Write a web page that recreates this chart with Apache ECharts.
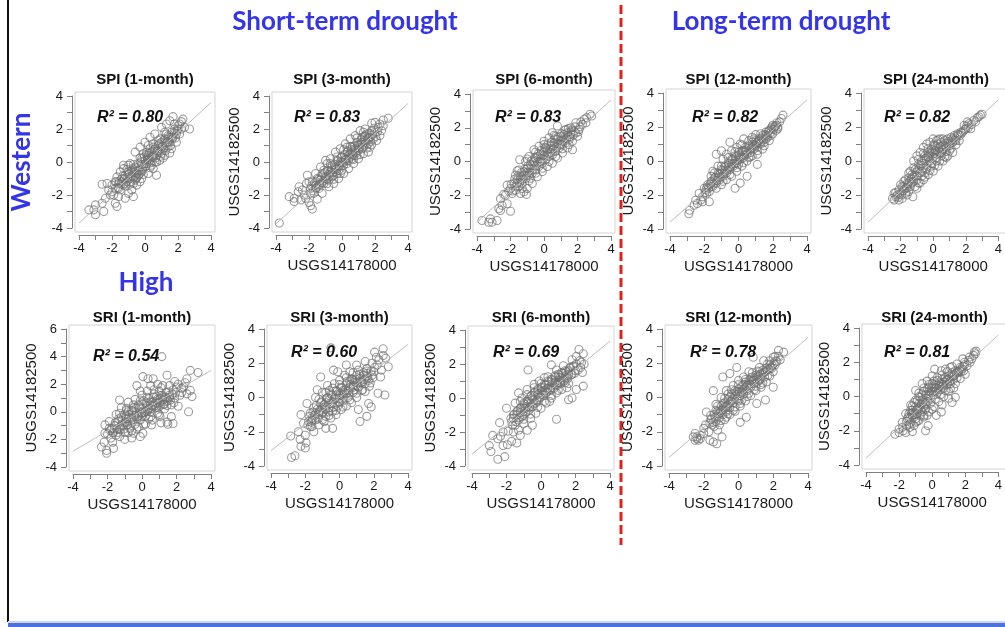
<!DOCTYPE html>
<html>
<head>
<meta charset="utf-8">
<script src="https://cdn.jsdelivr.net/npm/echarts@6/dist/echarts.min.js"></script>
<style>
html,body{margin:0;padding:0;background:#fff;}
#c{width:1005px;height:627px;}
</style>
</head>
<body>
<div id="c"></div>
<script>
// ---------------- DATA ----------------
const panelTitles = ['SPI (1-month)','SPI (3-month)','SPI (6-month)','SPI (12-month)','SPI (24-month)',
                     'SRI (1-month)','SRI (3-month)','SRI (6-month)','SRI (12-month)','SRI (24-month)'];
const r2Values = ['0.80','0.83','0.83','0.82','0.82','0.54','0.60','0.69','0.78','0.81'];
const yMaxValues = [4,4,4,4,4,6,4,4,4,4];
const axisMin = -4, axisMaxX = 4;
const xName = 'USGS14178000';
const yName = 'USGS14182500';
const headings = ['Short-term drought','Long-term drought'];
const rowLabel = 'Western';
const colLabel = 'High';

// fitted regression lines (end points)
const fitLines = [
  [[-4,-3.7],[4,3.6]],
  [[-4,-3.75],[4,3.55]],
  [[-4,-3.6],[4,3.65]],
  [[-4,-3.6],[4,3.6]],
  [[-4,-3.6],[4,3.6]],
  [[-4,-2.85],[4,3.0]],
  [[-4,-3.1],[4,3.1]],
  [[-4,-3.3],[4,3.35]],
  [[-4,-3.5],[4,3.5]],
  [[-4,-3.6],[4,3.6]]
];

const spi1 = [[-4.1,-3.3],[-3.4,-2.9],[-3.1,-2.9],[-3.0,-3.2],[-3.0,-2.6],[-2.5,-3.0],[-1.8,-2.5],[-1.7,-2.7],[-2.6,-1.35],[-2.3,-1.3],[-2.0,-1.4],[-1.8,-1.2],[-0.7,-2.1],[0.7,-0.8],[1.7,2.75],[2.2,2.45],[2.7,2.0],[2.0,2.0],[-2.1,-2.0],[-1.6,-2.1],[-1.2,-2.2],[-1.0,-1.9],[-1.5,-0.6],[-1.3,-0.4],[-0.9,-0.1],[-0.6,0.6],[-0.3,0.9],[0.0,1.2],[0.3,1.5],[0.6,1.7],[1.0,2.1],[1.3,2.3],[1.5,2.5],[1.8,2.3],[2.1,1.7],[1.9,1.2],[1.6,0.8],[1.2,0.4],[0.9,0.1],[0.5,-0.4],[0.2,-0.7],[-0.2,-1.0],[-0.5,-1.4],[-0.8,-1.7],
[-1.8,-1.6],[-1.6,-1.3],[-1.5,-1.7],[-1.4,-1.0],[-1.3,-1.4],[-1.2,-0.8],[-1.1,-1.2],[-1.0,-0.6],[-0.9,-1.0],[-0.8,-0.5],[-0.7,-0.9],[-0.6,-0.3],[-0.5,-0.7],[-0.4,-0.1],[-0.3,-0.5],[-0.2,0.2],[-0.1,-0.3],[0.0,0.1],[0.1,-0.1],[0.2,0.4],[0.3,0.1],[0.4,0.6],[0.5,0.3],[0.6,0.8],[0.7,0.4],[0.8,1.0],[0.9,0.6],[1.0,1.2],[1.1,0.8],[1.2,1.4],[1.3,1.0],[1.4,1.6],[1.5,1.2],[1.6,1.8],[1.7,1.5],[1.8,2.0],[1.9,1.7],[2.0,2.2],[2.1,2.3],[2.2,2.0],
[-1.0,-0.2],[-0.7,-1.3],[-0.4,-0.8],[-0.2,-0.6],[0.1,0.6],[0.3,0.8],[0.4,-0.2],[0.6,0.0],[0.8,1.3],[1.0,0.5],[1.2,1.8],[1.4,0.9],[-1.7,-0.9],[-1.9,-2.0],[-2.2,-1.7],[-0.3,-1.2],[0.2,1.0],[0.5,1.1],[-0.1,0.5],[-0.6,-1.1],
[-1.75,-1.2],[-1.65,-1.55],[-1.55,-1.15],[-1.45,-1.35],[-1.35,-0.85],[-1.25,-1.05],[-1.15,-1.45],[-1.05,-0.95],[-0.95,-0.7],[-0.85,-1.2],[-0.75,-0.4],[-0.65,-0.65],[-0.55,-1.0],[-0.45,-0.35],[-0.35,-0.75],[-0.25,0.0],[-0.15,-0.45],[-0.05,0.3],[0.05,-0.25],[0.15,0.15],[0.25,0.55],[0.35,-0.05],[0.45,0.35],[0.55,0.75],[0.65,0.25],[0.75,0.65],[0.85,1.1],[0.95,0.35],[1.05,0.95],[1.15,1.3],[1.25,0.7],[1.35,1.2],[1.45,1.5],[1.55,1.0],[1.65,1.4],[1.75,1.75],[1.85,1.45],[1.95,1.9],[-1.6,-1.6],[-1.2,-1.3],[-0.8,-0.85],[-0.4,-0.5],[0.0,-0.1],[0.4,0.3],[0.8,0.7],[1.2,1.15],[1.6,1.5],[-1.4,-1.2],[-1.0,-0.75],[-0.6,-0.55],[-0.2,-0.15],[0.2,0.25],[0.6,0.55],[1.0,0.9],[1.4,1.25],[-1.1,-0.45],[-0.7,-0.15],[-0.3,0.25],[0.1,0.45],[0.5,0.9],[0.9,1.4],[1.3,1.7],[-0.9,-1.35],[-0.5,-0.95],[-0.1,-0.75],[0.3,-0.35],[0.7,0.0],[1.1,0.25],[1.5,0.55],[-1.3,-0.2],[2.3,2.6],[2.4,2.1],[-2.4,-2.2],[-2.0,-1.8],[-2.6,-2.5]];

const spi3 = [[-4.1,-3.9],[-3.8,-3.7],[-3.2,-2.1],[-2.9,-2.4],[-2.9,-2.2],[-2.6,-1.5],[-2.65,-1.8],[-2.0,-2.45],[-1.9,-2.65],[-1.8,-2.85],[-1.5,-2.25],[-2.15,-1.3],[-2.1,-0.8],[-0.9,-0.1],[2.8,2.65],[2.5,2.55],[1.8,2.35],[2.1,1.3],[1.7,0.9],[2.2,2.1],[2.4,1.9],[2.3,1.6],[2.0,2.4],
[-1.9,-1.6],[-1.8,-1.2],[-1.7,-1.9],[-1.6,-1.4],[-1.5,-1.0],[-1.4,-1.6],[-1.3,-1.1],[-1.2,-0.7],[-1.1,-1.3],[-1.0,-0.9],[-0.9,-0.5],[-0.8,-1.1],[-0.7,-0.6],[-0.6,-0.2],[-0.5,-0.8],[-0.4,-0.3],[-0.3,0.1],[-0.2,-0.5],[-0.1,0.0],[0.0,0.3],[0.1,-0.2],[0.2,0.2],[0.3,0.6],[0.4,0.1],[0.5,0.5],[0.6,0.9],[0.7,0.4],[0.8,0.8],[0.9,1.2],[1.0,0.7],[1.1,1.1],[1.2,1.5],[1.3,0.9],[1.4,1.3],[1.5,1.7],[1.6,1.1],[1.7,1.5],[1.8,1.9],[1.9,1.4],[2.0,1.8],
[-1.3,-0.3],[-1.0,0.1],[-0.7,0.2],[-0.4,0.6],[-0.1,0.8],[0.2,1.1],[0.5,1.4],[0.8,1.6],[1.1,1.9],[1.4,2.0],[-1.6,-0.7],[-0.8,-1.5],[-0.5,-1.3],[-0.2,-1.0],[0.1,-0.7],[0.4,-0.4],[0.7,-0.1],[1.0,0.2],[1.3,0.5],[1.6,0.6],[-1.2,-1.9],[-2.3,-2.0],[-2.4,-1.7],[0.0,-0.5],[0.3,0.9],[0.6,0.2],[-0.3,-0.7],[-0.6,-0.9],[0.9,0.4],[1.2,0.8],
[-1.85,-1.45],[-1.75,-1.75],[-1.65,-1.25],[-1.55,-1.55],[-1.45,-1.05],[-1.35,-1.35],[-1.25,-0.85],[-1.15,-1.15],[-1.05,-0.65],[-0.95,-1.05],[-0.85,-0.55],[-0.75,-0.85],[-0.65,-0.35],[-0.55,-0.65],[-0.45,-0.15],[-0.35,-0.45],[-0.25,0.05],[-0.15,-0.25],[-0.05,0.25],[0.05,-0.05],[0.15,0.45],[0.25,0.15],[0.35,0.65],[0.45,0.25],[0.55,0.75],[0.65,0.45],[0.75,0.95],[0.85,0.55],[0.95,1.05],[1.05,0.85],[1.15,1.35],[1.25,1.05],[1.35,1.55],[1.45,1.15],[1.55,1.45],[1.65,1.75],[1.75,1.25],[1.85,1.65],[1.95,2.05],[2.05,1.55],[2.15,1.85],[-1.6,-1.6],[-1.2,-1.25],[-0.8,-0.75],[-0.4,-0.4],[0.0,0.0],[0.4,0.4],[0.8,0.7],[1.2,1.2],[1.6,1.4],[-1.4,-1.4],[-1.0,-1.0],[-0.6,-0.5],[-0.2,-0.2],[0.2,0.1],[0.6,0.6],[1.0,1.0],[1.4,1.6],[-1.1,-0.5],[-0.7,-0.1],[-0.3,0.3],[0.1,0.75],[0.5,0.95],[0.9,1.45],[1.3,1.8],[-0.9,-1.3],[-0.5,-1.05],[-0.1,-0.7],[0.3,-0.1],[0.7,0.15],[1.1,0.45],[1.5,0.85],[1.8,1.05],[2.3,2.3],[2.5,2.2],[-2.2,-2.2],[-2.5,-2.3],[-1.9,-1.9],[-2.0,-1.2]];

const spi6 = [[-3.7,-3.5],[-3.3,-3.6],[-3.2,-3.4],[-3.1,-3.6],[-2.8,-3.5],[-2.7,-2.8],[-2.6,-2.9],[-2.2,-2.5],[-2.0,-2.95],[-2.6,-2.2],[-2.4,-1.95],[-2.1,-1.75],[-1.05,-1.95],[-1.45,0.1],[0.8,2.1],[2.75,2.8],[2.85,2.7],[2.55,2.6],[1.9,2.3],[1.9,1.7],[2.3,2.2],[2.1,1.9],[2.4,2.5],[1.6,2.0],
[-2.0,-1.6],[-1.9,-1.9],[-1.8,-1.3],[-1.7,-1.7],[-1.6,-1.1],[-1.5,-1.5],[-1.4,-0.9],[-1.3,-1.3],[-1.2,-0.6],[-1.1,-1.0],[-1.0,-0.4],[-0.9,-0.8],[-0.8,-0.2],[-0.7,-0.7],[-0.6,0.0],[-0.5,-0.5],[-0.4,0.3],[-0.3,-0.3],[-0.2,0.4],[-0.1,-0.1],[0.0,0.6],[0.1,0.1],[0.2,0.7],[0.3,0.3],[0.4,0.9],[0.5,0.4],[0.6,1.1],[0.7,0.6],[0.8,1.3],[0.9,0.8],[1.0,1.5],[1.1,1.0],[1.2,1.6],[1.3,1.1],[1.4,1.7],[1.5,1.3],[1.6,1.6],[1.7,1.2],[1.8,1.8],[2.0,1.5],
[-1.7,-0.8],[-1.5,-0.5],[-1.1,0.0],[-0.9,0.3],[-0.6,0.7],[-0.3,0.9],[0.0,1.2],[0.3,1.4],[0.5,1.7],[-1.4,-1.9],[-1.0,-1.6],[-0.7,-1.3],[-0.4,-0.9],[-0.1,-0.6],[0.2,-0.3],[0.5,-0.1],[0.8,0.2],[1.1,0.5],[1.4,0.8],[1.7,0.7],[-2.2,-1.4],[-0.8,-1.0],[-0.2,0.0],[0.4,0.5],[1.0,1.0],[0.1,0.8],[-0.5,0.2],[0.7,1.5],[-1.2,-1.8],[1.3,1.9],
[-1.95,-1.35],[-1.85,-1.75],[-1.75,-1.05],[-1.65,-1.45],[-1.55,-0.85],[-1.45,-1.25],[-1.35,-0.65],[-1.25,-1.05],[-1.15,-0.45],[-1.05,-0.85],[-0.95,-0.25],[-0.85,-0.65],[-0.75,0.05],[-0.65,-0.45],[-0.55,0.25],[-0.45,-0.25],[-0.35,0.45],[-0.25,-0.05],[-0.15,0.65],[-0.05,0.15],[0.05,0.85],[0.15,0.35],[0.25,1.05],[0.35,0.55],[0.45,1.15],[0.55,0.75],[0.65,1.35],[0.75,0.85],[0.85,1.45],[0.95,1.05],[1.05,1.65],[1.15,1.25],[1.25,1.85],[1.35,1.35],[1.45,1.95],[1.55,1.45],[1.65,1.85],[1.75,1.55],[1.85,2.05],[2.05,1.75],[2.15,2.05],[-1.6,-1.3],[-1.2,-0.8],[-0.8,-0.45],[-0.4,-0.05],[0.0,0.35],[0.4,0.75],[0.8,1.05],[1.2,1.35],[1.6,1.75],[-1.4,-1.05],[-1.0,-0.65],[-0.6,-0.25],[-0.2,0.15],[0.2,0.5],[0.6,0.95],[1.0,1.25],[1.4,1.55],[-1.3,-1.6],[-0.9,-1.15],[-0.5,-0.7],[-0.1,-0.4],[0.3,0.0],[0.7,0.3],[1.1,0.75],[1.5,1.0],[-1.6,-0.55],[-1.0,0.15],[-0.5,0.55],[0.0,1.0],[0.6,1.55],[-2.3,-2.0],[-2.5,-2.6],[2.2,2.35],[2.5,2.3]];

const spi12 = [[-2.9,-3.1],[-2.85,-2.9],[-2.2,-2.3],[-2.1,-2.1],[-1.7,-2.4],[-1.85,-1.9],[2.6,2.7],[2.5,2.5],[2.2,2.1],[2.3,1.9],[2.1,2.0],[2.0,2.1],[2.2,1.8],[1.9,1.9],[2.4,2.3],[-2.4,-2.5],[-2.0,-1.6],[-2.3,-1.9],[-1.3,0.4],[-1.0,0.6],[-0.5,1.1],[0.3,1.3],[0.8,1.4],[1.6,1.3],[-0.2,-1.6],[0.5,-0.9],[1.1,-0.2],[0.1,-1.3],
[-1.9,-1.7],[-1.8,-1.4],[-1.7,-1.8],[-1.6,-1.2],[-1.5,-1.5],[-1.4,-1.0],[-1.3,-1.3],[-1.2,-0.7],[-1.1,-1.1],[-1.0,-0.5],[-0.9,-0.9],[-0.8,-0.3],[-0.7,-0.7],[-0.6,-0.1],[-0.5,-0.5],[-0.4,0.1],[-0.3,-0.3],[-0.2,0.3],[-0.1,-0.1],[0.0,0.5],[0.1,0.1],[0.2,0.6],[0.3,0.2],[0.4,0.8],[0.5,0.4],[0.6,0.9],[0.7,0.5],[0.8,1.1],[0.9,0.7],[1.0,1.2],[1.1,0.8],[1.2,1.3],[1.3,1.0],[1.4,1.5],[1.5,1.1],[1.6,1.7],[1.7,1.4],[1.8,1.8],[1.9,1.5],
[-1.5,-0.6],[-1.2,-0.3],[-0.9,0.1],[-0.7,0.4],[-0.4,0.6],[-0.1,0.8],[0.1,1.0],[-1.0,-1.4],[-0.7,-1.1],[-0.4,-0.9],[-0.1,-0.6],[0.2,-0.3],[0.5,0.0],[0.8,0.3],[1.1,0.4],[1.4,0.7],[-1.6,-0.9],[-0.2,0.0],[0.3,0.6],[0.6,0.2],[1.0,0.9],[-0.6,-0.4],[-1.1,-0.8],[0.0,-0.2],[0.9,1.3],[1.3,1.6],
[-1.95,-1.85],[-1.85,-1.55],[-1.75,-1.6],[-1.65,-1.35],[-1.55,-1.25],[-1.45,-1.35],[-1.35,-0.95],[-1.25,-1.15],[-1.15,-0.75],[-1.05,-0.95],[-0.95,-0.55],[-0.85,-0.75],[-0.75,-0.35],[-0.65,-0.55],[-0.55,-0.15],[-0.45,-0.35],[-0.35,0.05],[-0.25,-0.15],[-0.15,0.25],[-0.05,0.05],[0.05,0.35],[0.15,0.25],[0.25,0.55],[0.35,0.35],[0.45,0.65],[0.55,0.55],[0.65,0.85],[0.75,0.75],[0.85,0.95],[0.95,0.95],[1.05,1.05],[1.15,1.15],[1.25,1.05],[1.35,1.35],[1.45,1.25],[1.55,1.55],[1.65,1.45],[1.75,1.75],[1.85,1.65],[1.95,2.0],[2.05,1.85],[2.15,2.05],[2.25,2.25],[-1.6,-1.5],[-1.2,-1.0],[-0.8,-0.6],[-0.4,-0.2],[0.0,0.2],[0.4,0.5],[0.8,0.8],[1.2,1.2],[1.6,1.5],[-1.4,-0.7],[-1.0,-0.3],[-0.6,0.2],[-0.2,0.55],[0.2,0.95],[0.6,1.2],[1.0,1.55],[-1.3,-1.6],[-0.9,-1.2],[-0.5,-0.8],[-0.1,-0.4],[0.3,-0.1],[0.7,0.25],[1.1,0.6],[1.5,0.9],[1.8,1.2],[-2.1,-2.4],[-2.5,-2.3],[-2.6,-2.6],[2.0,1.6],[2.3,2.0]];

const spi24 = [[-2.4,-2.3],[-2.3,-2.1],[-2.1,-2.3],[-1.9,-2.2],[-2.4,-1.9],[-1.7,-1.9],[-2.1,-1.7],[-1.8,-1.5],[-2.2,-2.0],[-1.25,-2.1],[-1.5,-1.8],[-1.0,-1.6],[3.0,2.75],[2.7,2.55],[2.5,2.4],[2.2,2.2],[2.0,1.9],[1.7,1.7],[2.3,1.9],[2.1,2.3],[1.9,2.1],[2.6,2.3],[1.6,1.2],[1.3,1.5],
[-1.6,-1.3],[-1.5,-1.0],[-1.4,-1.5],[-1.3,-0.8],[-1.2,-1.2],[-1.1,-0.5],[-1.0,-0.9],[-0.9,-0.2],[-0.8,-0.7],[-0.7,0.0],[-0.6,-0.4],[-0.5,0.3],[-0.4,-0.2],[-0.3,0.5],[-0.2,0.0],[-0.1,0.7],[0.0,0.2],[0.1,0.9],[0.2,0.4],[0.3,1.0],[0.4,0.5],[0.5,1.1],[0.6,0.7],[0.7,1.2],[0.8,0.8],[0.9,1.3],[1.0,0.9],[1.1,1.4],[1.2,1.1],[1.4,1.2],
[-1.2,0.0],[-1.0,0.3],[-0.8,0.5],[-0.6,0.8],[-0.4,1.0],[-0.2,1.1],[0.0,1.3],[0.2,1.2],[-0.9,-1.3],[-0.6,-1.1],[-0.3,-0.8],[0.0,-0.6],[0.3,-0.3],[0.6,0.0],[0.9,0.3],[1.2,0.5],[-1.4,-0.6],[-0.5,-0.7],[-0.1,-0.3],[0.2,0.0],[0.5,0.5],[0.8,0.2],[-0.7,-0.9],[-1.1,-1.5],[0.4,1.3],[-0.3,0.2],[0.1,0.6],[1.5,1.6],[1.0,0.6],[-1.8,-1.2],[-2.0,-1.4],[-1.6,-2.0],
[-2.15,-2.15],[-2.05,-1.95],[-1.95,-2.0],[-1.85,-1.75],[-1.75,-1.65],[-1.65,-1.55],[-1.55,-1.35],[-1.45,-1.2],[-1.35,-1.05],[-1.25,-0.95],[-1.15,-0.85],[-1.05,-0.65],[-0.95,-0.55],[-0.85,-0.45],[-0.75,-0.25],[-0.65,-0.15],[-0.55,0.05],[-0.45,0.15],[-0.35,0.25],[-0.25,0.35],[-0.15,0.45],[-0.05,0.55],[0.05,0.45],[0.15,0.65],[0.25,0.55],[0.35,0.75],[0.45,0.85],[0.55,0.65],[0.65,0.95],[0.75,0.85],[0.85,1.05],[0.95,1.15],[1.05,1.05],[1.15,1.25],[1.25,1.35],[1.35,1.25],[1.45,1.45],[1.55,1.55],[1.65,1.5],[1.75,1.65],[1.85,1.75],[1.95,1.85],[2.05,2.05],[2.15,1.95],[2.35,2.15],[-1.9,-1.5],[-1.6,-1.6],[-1.3,-1.3],[-1.0,-1.1],[-0.7,-0.6],[-0.4,-0.45],[-0.1,-0.15],[0.2,0.2],[0.5,0.3],[0.8,0.55],[1.1,0.75],[1.4,0.95],[-1.5,-0.7],[-1.2,-0.4],[-0.9,0.1],[-0.6,0.45],[-0.3,0.75],[0.0,0.95],[0.3,1.25],[0.6,1.3],[-0.8,-1.3],[-0.5,-0.95],[-0.2,-0.55],[0.1,-0.25],[0.4,0.0],[0.7,0.25],[-1.7,-1.1],[-2.3,-1.85],[-2.5,-2.2],[2.8,2.6],[2.9,2.7]];

const sri1 = [[1.15,4.0],[0.05,2.55],[0.35,2.4],[0.65,2.4],[1.45,2.65],[2.8,3.0],[3.25,2.85],[2.6,2.4],[2.4,1.8],[2.8,1.55],[2.9,1.1],[2.7,0.0],[1.7,-0.35],[1.45,-0.75],[1.5,-0.9],[1.8,-0.85],[1.05,-0.35],[0.55,-0.95],[-2.35,-2.55],[-2.05,-2.8],[-2.05,-3.0],[-2.2,-2.2],[-1.65,-2.65],[-2.15,-1.55],[-1.85,-1.35],[-2.15,-0.95],[-1.3,0.85],[-0.9,0.1],[-0.3,1.9],[-1.3,-1.8],[-0.5,-1.55],[-0.1,-1.8],[0.05,-1.55],[2.0,1.8],[2.1,2.0],[1.9,2.2],[2.3,1.4],[1.8,1.6],[2.2,1.2],[1.6,1.9],[1.2,1.9],[0.9,2.0],[-0.6,-1.9],[-1.0,-2.0],
[-1.7,-1.5],[-1.6,-1.0],[-1.5,-1.7],[-1.4,-0.7],[-1.3,-1.3],[-1.2,-0.4],[-1.1,-1.0],[-1.0,-0.2],[-0.9,-0.8],[-0.8,0.0],[-0.7,-1.2],[-0.6,-0.4],[-0.5,0.3],[-0.4,-0.9],[-0.3,-0.1],[-0.2,0.5],[-0.1,-0.6],[0.0,0.2],[0.1,0.8],[0.2,-0.3],[0.3,0.4],[0.4,1.0],[0.5,0.0],[0.6,0.7],[0.7,1.3],[0.8,0.3],[0.9,0.9],[1.0,1.5],[1.1,0.5],[1.2,1.1],[1.3,0.2],[1.4,1.4],[1.5,0.8],[1.6,1.2],[1.7,0.5],[1.9,1.0],
[-1.5,-0.2],[-1.2,0.3],[-0.8,0.7],[-0.4,0.9],[0.0,1.2],[0.3,1.5],[-1.0,-1.5],[-0.6,-1.4],[-0.2,-1.1],[0.2,-0.9],[0.6,-0.6],[1.0,-0.2],[-0.9,-0.5],[-0.3,-0.5],[0.3,0.0],[0.6,0.4],[0.9,0.6],[-0.6,0.1],[0.0,-0.3],[1.3,0.9],[-1.8,-1.9],[-1.9,-1.2],[0.5,1.9],[-0.1,1.5],[1.1,-0.8],[0.4,-0.5],
[-1.75,-1.2],[-1.65,-1.5],[-1.55,-0.8],[-1.45,-1.25],[-1.35,-0.5],[-1.25,-1.1],[-1.15,-0.65],[-1.05,-1.25],[-0.95,-0.35],[-0.85,-0.95],[-0.75,-0.2],[-0.65,-0.75],[-0.55,0.05],[-0.45,-0.55],[-0.35,0.25],[-0.25,-0.35],[-0.15,0.35],[-0.05,-0.15],[0.05,0.55],[0.15,-0.05],[0.25,0.65],[0.35,0.15],[0.45,0.7],[0.55,0.25],[0.65,1.05],[0.75,0.45],[0.85,1.15],[0.95,0.3],[1.05,0.95],[1.15,1.2],[1.25,0.55],[1.35,1.05],[1.45,0.45],[1.55,1.45],[1.65,0.85],[1.75,1.25],[1.85,0.65],[1.95,1.4],[-1.6,-1.25],[-1.2,-0.95],[-0.8,-0.5],[-0.4,-0.25],[0.0,-0.05],[0.4,0.25],[0.8,0.65],[1.2,0.85],[1.6,1.05],[-1.4,-1.5],[-1.0,-0.8],[-0.6,-0.6],[-0.2,-0.3],[0.2,0.05],[0.6,0.45],[1.0,0.7],[1.4,1.0],[-1.3,-0.1],[-0.9,0.25],[-0.5,0.5],[-0.1,0.8],[0.3,1.05],[0.7,1.6],[1.1,1.75],[-0.8,-1.5],[-0.3,-1.25],[0.1,-0.9],[0.5,-0.35],[0.9,-0.1],[1.3,0.55],[-1.9,-0.7],[-2.0,-1.6],[-1.7,-2.2],[2.3,1.7],[2.5,2.1],[2.6,1.3],[2.1,0.4]];

const sri3 = [[-2.8,-3.5],[-2.6,-3.4],[-2.85,-2.25],[-2.25,-2.85],[-2.0,-2.95],[-1.95,-2.65],[-2.3,-2.45],[-2.0,-2.2],[-2.25,-1.0],[-1.9,-0.35],[-1.3,0.45],[-1.1,1.2],[-0.35,1.6],[-0.5,2.9],[2.05,2.65],[2.55,2.85],[2.55,2.45],[2.15,2.35],[2.85,1.8],[2.45,1.6],[2.25,0.25],[2.65,0.15],[1.7,-0.35],[1.85,-0.55],[1.6,-1.1],[1.2,-1.4],[1.1,-0.7],[1.8,0.85],[2.2,1.9],[1.9,2.0],[1.5,2.1],[1.0,1.9],[0.4,1.9],[-0.1,1.5],[-0.8,-1.8],[-0.4,-1.8],[-1.5,-2.0],[-1.7,-1.7],[2.0,1.5],[1.6,1.7],
[-1.8,-1.4],[-1.7,-0.9],[-1.6,-1.2],[-1.5,-0.6],[-1.4,-1.3],[-1.3,-0.7],[-1.2,-1.0],[-1.1,-0.3],[-1.0,-0.9],[-0.9,-0.4],[-0.8,-1.1],[-0.7,0.0],[-0.6,-0.6],[-0.5,0.2],[-0.4,-0.8],[-0.3,-0.1],[-0.2,0.4],[-0.1,-0.5],[0.0,0.1],[0.1,0.6],[0.2,-0.2],[0.3,0.3],[0.4,0.8],[0.5,0.0],[0.6,0.6],[0.7,1.1],[0.8,0.3],[0.9,0.9],[1.0,1.3],[1.1,0.6],[1.2,1.1],[1.3,0.4],[1.4,1.3],[1.5,0.8],[1.6,1.4],[1.7,1.0],[1.9,1.3],
[-1.4,0.0],[-1.0,0.3],[-0.7,0.7],[-0.3,0.8],[0.0,1.0],[0.3,1.3],[0.6,1.5],[-1.2,-1.6],[-0.9,-1.4],[-0.5,-1.2],[-0.2,-1.0],[0.1,-0.7],[0.4,-0.5],[0.7,-0.3],[1.0,0.0],[-0.8,-0.3],[-0.3,-0.4],[0.2,0.2],[0.5,0.4],[0.8,0.7],[-0.6,0.4],[1.3,0.9],[-1.6,-1.7],[0.0,-0.3],[1.1,1.6],
[-1.85,-1.6],[-1.75,-1.1],[-1.65,-1.45],[-1.55,-0.85],[-1.45,-1.05],[-1.35,-0.45],[-1.25,-1.25],[-1.15,-0.75],[-1.05,-0.25],[-0.95,-0.85],[-0.85,-0.55],[-0.75,-0.05],[-0.65,-0.85],[-0.55,-0.35],[-0.45,0.15],[-0.35,-0.55],[-0.25,0.0],[-0.15,0.35],[-0.05,-0.25],[0.05,0.25],[0.15,0.55],[0.25,0.0],[0.35,0.45],[0.45,0.95],[0.55,0.25],[0.65,0.75],[0.75,1.05],[0.85,0.45],[0.95,1.05],[1.05,0.65],[1.15,1.35],[1.25,0.85],[1.35,0.45],[1.45,1.05],[1.55,1.55],[1.65,1.15],[1.75,0.65],[1.85,1.55],[1.95,1.15],[2.05,1.75],[-1.6,-1.35],[-1.2,-0.85],[-0.8,-0.7],[-0.4,-0.3],[0.0,-0.05],[0.4,0.25],[0.8,0.6],[1.2,0.95],[1.6,1.25],[-1.4,-0.95],[-1.0,-0.6],[-0.6,-0.15],[-0.2,0.15],[0.2,0.4],[0.6,0.95],[1.0,0.85],[1.4,1.45],[-1.2,-0.1],[-0.8,0.3],[-0.4,0.55],[0.0,0.75],[0.4,1.15],[0.8,1.45],[-1.0,-1.3],[-0.6,-1.05],[-0.2,-0.75],[0.2,-0.55],[0.6,-0.15],[1.0,0.25],[1.5,0.35],[-2.1,-1.5],[-2.4,-2.0],[2.3,2.2],[2.4,1.2],[2.7,2.3]];

const sri6 = [[-3.0,-2.8],[-2.9,-3.15],[-2.5,-3.6],[-2.1,-3.45],[-2.8,-2.2],[-2.35,-2.25],[-2.2,-2.8],[-1.95,-2.75],[-1.7,-2.55],[-1.9,-1.95],[-1.4,-2.65],[-2.4,-1.45],[-2.0,-0.6],[-1.3,0.3],[-0.75,1.65],[2.2,2.85],[2.45,2.6],[2.05,2.45],[1.8,2.25],[2.45,0.7],[2.05,0.5],[1.6,-0.1],[1.8,0.0],[0.9,-1.25],[1.1,0.9],[0.6,1.95],[2.3,1.8],[2.0,1.6],[2.35,2.1],[1.7,1.8],[1.3,1.9],[-1.6,-2.0],[-1.2,-2.2],[-0.8,-1.9],[-0.5,-1.6],
[-1.7,-1.4],[-1.6,-1.0],[-1.5,-1.6],[-1.4,-0.8],[-1.3,-1.3],[-1.2,-0.6],[-1.1,-1.1],[-1.0,-0.3],[-0.9,-0.9],[-0.8,-0.2],[-0.7,-0.7],[-0.6,0.1],[-0.5,-0.5],[-0.4,0.3],[-0.3,-0.3],[-0.2,0.5],[-0.1,0.0],[0.0,0.6],[0.1,0.2],[0.2,0.8],[0.3,0.3],[0.4,1.0],[0.5,0.5],[0.6,1.1],[0.7,0.6],[0.8,1.3],[0.9,0.8],[1.0,1.4],[1.1,1.0],[1.2,1.5],[1.3,1.1],[1.4,1.6],[1.5,1.2],[1.6,1.6],[1.8,1.4],[1.9,1.9],
[-1.5,-0.3],[-1.1,0.0],[-0.8,0.5],[-0.4,0.8],[-0.1,1.0],[0.2,1.2],[-1.0,-1.5],[-0.6,-1.2],[-0.3,-0.9],[0.0,-0.6],[0.3,-0.3],[0.6,0.0],[0.9,0.3],[1.2,0.5],[1.5,0.6],[-0.9,-0.6],[-0.2,-0.2],[0.4,0.6],[0.8,0.9],[1.1,1.2],[-0.5,0.0],[0.1,0.4],[-1.3,-1.9],[0.5,-0.2],[1.4,0.9],
[-1.75,-1.2],[-1.65,-1.6],[-1.55,-0.95],[-1.45,-1.4],[-1.35,-0.75],[-1.25,-1.15],[-1.15,-0.55],[-1.05,-1.0],[-0.95,-0.35],[-0.85,-0.8],[-0.75,-0.1],[-0.65,-0.55],[-0.55,0.15],[-0.45,-0.35],[-0.35,0.35],[-0.25,-0.15],[-0.15,0.5],[-0.05,0.05],[0.05,0.65],[0.15,0.15],[0.25,0.75],[0.35,0.35],[0.45,0.95],[0.55,0.45],[0.65,1.05],[0.75,0.55],[0.85,1.25],[0.95,0.75],[1.05,1.35],[1.15,0.85],[1.25,1.45],[1.35,1.0],[1.45,1.55],[1.55,1.15],[1.65,1.75],[1.75,1.35],[1.85,1.85],[1.95,1.45],[2.05,2.0],[2.15,1.65],[2.25,2.2],[-1.6,-1.2],[-1.2,-0.85],[-0.8,-0.5],[-0.4,-0.1],[0.0,0.3],[0.4,0.55],[0.8,0.95],[1.2,1.2],[1.6,1.4],[-1.4,-1.0],[-1.0,-0.6],[-0.6,-0.3],[-0.2,0.2],[0.2,0.45],[0.6,0.75],[1.0,1.05],[1.4,1.3],[-1.2,-0.2],[-0.8,0.2],[-0.4,0.6],[0.0,0.85],[0.4,1.25],[0.9,1.65],[-1.0,-1.25],[-0.6,-0.95],[-0.2,-0.55],[0.2,-0.2],[0.6,0.15],[1.0,0.45],[1.6,0.85],[-2.2,-2.0],[-2.5,-2.4],[2.5,2.0],[2.4,1.5]];

const sri12 = [[-2.5,-2.1],[-2.4,-2.3],[-2.2,-2.2],[-2.4,-2.4],[-2.6,-2.3],[-2.3,-2.5],[-2.5,-2.5],[-1.65,-2.5],[-1.45,-2.6],[-1.25,-2.7],[-0.95,-2.3],[-1.85,-0.85],[2.3,2.75],[2.6,2.65],[2.0,2.35],[1.8,2.15],[1.65,1.95],[1.45,2.15],[2.0,0.6],[1.55,-0.15],[1.05,-0.35],[0.45,-1.15],[0.1,-1.45],[-0.7,-0.55],[-1.45,0.4],[-0.9,1.2],[-0.5,1.4],[-0.1,1.75],[0.85,2.35],[2.1,1.9],[2.2,2.1],[1.9,1.7],[2.1,2.4],[2.0,1.5],[-1.9,-1.6],[-1.7,-2.0],[-1.2,-1.9],
[-1.6,-1.3],[-1.5,-1.6],[-1.4,-1.0],[-1.3,-1.4],[-1.2,-0.8],[-1.1,-1.2],[-1.0,-0.5],[-0.9,-1.0],[-0.8,-0.3],[-0.7,-0.8],[-0.6,-0.1],[-0.5,-0.6],[-0.4,0.2],[-0.3,-0.3],[-0.2,0.4],[-0.1,-0.1],[0.0,0.5],[0.1,0.1],[0.2,0.7],[0.3,0.2],[0.4,0.9],[0.5,0.4],[0.6,1.0],[0.7,0.6],[0.8,1.2],[0.9,0.8],[1.0,1.3],[1.1,0.9],[1.2,1.5],[1.3,1.1],[1.4,1.6],[1.5,1.2],[1.6,1.7],[1.7,1.3],[1.8,1.9],
[-1.3,-0.4],[-1.0,0.0],[-0.7,0.4],[-0.3,0.7],[0.0,1.0],[0.3,1.2],[0.6,1.5],[-1.1,-1.6],[-0.8,-1.3],[-0.5,-1.0],[-0.2,-0.8],[0.1,-0.5],[0.4,-0.2],[0.7,0.1],[1.0,0.4],[1.3,0.6],[1.6,0.9],[-0.9,-0.7],[-0.4,-0.2],[0.2,0.3],[0.5,0.7],[0.9,1.0],[1.2,1.0],[-0.6,0.2],[0.0,-0.2],
[-1.65,-1.5],[-1.55,-1.25],[-1.45,-1.45],[-1.35,-1.15],[-1.25,-1.1],[-1.15,-0.95],[-1.05,-0.85],[-0.95,-0.75],[-0.85,-0.6],[-0.75,-0.55],[-0.65,-0.45],[-0.55,-0.35],[-0.45,-0.25],[-0.35,-0.1],[-0.25,0.05],[-0.15,0.15],[-0.05,0.2],[0.05,0.3],[0.15,0.35],[0.25,0.45],[0.35,0.55],[0.45,0.65],[0.55,0.75],[0.65,0.8],[0.75,0.95],[0.85,1.0],[0.95,1.1],[1.05,1.2],[1.15,1.25],[1.25,1.35],[1.35,1.4],[1.45,1.45],[1.55,1.5],[1.65,1.6],[1.75,1.65],[1.85,1.75],[1.95,1.85],[2.05,2.0],[2.15,2.15],[-1.6,-1.05],[-1.2,-0.5],[-0.8,-0.05],[-0.4,0.45],[0.0,0.75],[0.4,1.05],[0.8,1.45],[1.2,1.75],[-1.4,-1.7],[-1.0,-1.35],[-0.6,-0.95],[-0.2,-0.55],[0.2,-0.15],[0.6,0.25],[1.0,0.65],[1.4,0.85],[1.8,1.25],[-1.3,-0.75],[-0.9,-0.35],[-0.5,0.05],[-0.1,0.35],[0.3,0.75],[0.7,1.15],[1.1,1.55],[-0.7,-1.15],[-0.3,-0.75],[0.1,-0.35],[0.5,0.05],[0.9,0.45],[1.3,0.75],[-2.0,-2.1],[-2.2,-2.4],[-2.0,-1.8],[2.3,2.4],[2.4,2.2]];

const sri24 = [[-2.25,-2.2],[-1.75,-2.0],[-1.35,-1.8],[-1.55,-1.7],[-1.2,-2.05],[-1.0,-1.5],[-0.4,-2.0],[-0.25,-1.7],[-1.0,0.35],[-0.7,-0.05],[-0.6,0.75],[0.15,1.6],[0.55,1.5],[0.8,1.6],[1.85,2.2],[2.25,2.3],[2.55,2.6],[2.65,2.65],[1.95,2.0],[1.7,1.7],[1.1,0.75],[1.4,-0.05],[1.2,-0.35],[0.55,-0.9],[0.25,-1.1],[-0.3,-1.1],[2.1,1.8],[2.3,2.0],[1.9,1.5],[2.4,2.2],[-2.0,-1.9],[-1.8,-1.5],[-1.6,-2.1],[0.0,1.2],[-0.3,0.9],[1.5,1.9],
[-1.5,-1.3],[-1.4,-1.0],[-1.3,-1.5],[-1.2,-0.8],[-1.1,-1.2],[-1.0,-0.6],[-0.9,-1.0],[-0.8,-0.4],[-0.7,-0.8],[-0.6,-0.2],[-0.5,-0.6],[-0.4,0.1],[-0.3,-0.3],[-0.2,0.3],[-0.1,-0.1],[0.0,0.5],[0.1,0.1],[0.2,0.7],[0.3,0.2],[0.4,0.8],[0.5,0.4],[0.6,1.0],[0.7,0.5],[0.8,1.1],[0.9,0.7],[1.0,1.2],[1.1,0.9],[1.2,1.4],[1.3,1.0],[1.4,1.5],[1.5,1.1],[1.6,1.4],[1.8,1.6],
[-1.3,-0.5],[-1.0,-0.2],[-0.8,0.2],[-0.5,0.5],[-0.2,0.7],[0.1,0.9],[-1.1,-1.7],[-0.8,-1.4],[-0.5,-1.2],[-0.2,-0.9],[0.1,-0.6],[0.4,-0.3],[0.7,0.0],[1.0,0.3],[1.3,0.5],[-0.9,-0.7],[-0.4,-0.4],[0.2,0.3],[0.6,0.6],[0.9,1.0],[-1.2,-1.1],[-0.6,-0.9],[0.3,1.1],[1.1,1.7],
[-1.55,-1.45],[-1.45,-1.2],[-1.35,-1.25],[-1.25,-1.0],[-1.15,-0.95],[-1.05,-1.05],[-0.95,-0.8],[-0.85,-0.75],[-0.75,-0.6],[-0.65,-0.45],[-0.55,-0.35],[-0.45,-0.45],[-0.35,-0.1],[-0.25,0.05],[-0.15,0.15],[-0.05,0.25],[0.05,0.3],[0.15,0.45],[0.25,0.5],[0.35,0.45],[0.45,0.6],[0.55,0.75],[0.65,0.7],[0.75,0.85],[0.85,0.95],[0.95,1.0],[1.05,0.85],[1.15,1.15],[1.25,1.2],[1.35,1.25],[1.45,1.35],[1.55,1.45],[1.65,1.55],[1.75,1.45],[1.85,1.75],[1.95,1.85],[-1.6,-1.0],[-1.2,-0.55],[-0.9,-0.25],[-0.6,0.15],[-0.3,0.45],[0.0,0.75],[0.3,0.95],[0.6,1.25],[0.9,1.45],[1.2,1.75],[-1.4,-1.6],[-1.0,-1.3],[-0.7,-1.1],[-0.4,-0.75],[-0.1,-0.4],[0.2,-0.15],[0.5,0.1],[0.8,0.35],[1.1,0.45],[1.4,0.75],[1.7,1.05],[-1.1,-0.35],[-0.8,0.0],[-0.5,0.3],[-0.2,0.55],[0.1,0.55],[0.4,0.65],[-1.3,-0.8],[-0.9,-1.45],[-0.5,-1.1],[0.0,-0.75],[0.6,-0.5],[1.0,-0.1],[2.2,2.1],[2.5,2.4],[2.6,2.5],[-2.0,-2.1],[-1.8,-1.8],[2.0,1.3]];

const panelData = [spi1, spi3, spi6, spi12, spi24, sri1, sri3, sri6, sri12, sri24];

// ---------------- LAYOUT (pixels) ----------------
// [left, top, width, height] of the -4..4 (or -4..6) data area
const panelRects = [
  [79, 96, 132, 132], [276, 96, 132, 132], [477, 94, 134, 135], [670, 93, 137, 136], [868, 93, 136, 136],
  [73, 329, 138, 138], [271, 329, 137, 137], [472, 330, 138, 136], [669, 329, 139, 137], [866, 328, 137, 137]
];
const r2Pos = [[97,118],[294,118],[495,118],[692,118],[884,118],[93,357],[291,353],[493,353],[690,353],[884,353]];

const dom = document.getElementById('c');
const chart = echarts.init(dom, null, {renderer: 'canvas', width: 1005, height: 627});

const FONT = 'Liberation Sans, Arial, sans-serif';
const HFONT = 'bold 26px Lato, "Open Sans", sans-serif';
const grids = [], xAxes = [], yAxes = [], series = [], graphics = [];

panelRects.forEach((r, i) => {
  const [l, t, w, h] = r;
  grids.push({left: l, top: t, width: w, height: h, containLabel: false});
  const showNames = i !== 0;
  const common = {
    gridIndex: i, type: 'value', min: axisMin, interval: 1, offset: 7,
    axisLine: {show: true, onZero: false, lineStyle: {color: '#808080', width: 1}},
    axisTick: {show: true, length: 5, lineStyle: {color: '#808080', width: 1}},
    axisLabel: {formatter: v => (Math.round(v) % 2 === 0 ? String(v) : ''), color: '#1a1a1a', fontSize: 13, fontFamily: FONT, margin: 7},
    splitLine: {show: false},
    nameLocation: 'middle',
    nameTextStyle: {color: '#1a1a1a', fontSize: 15, fontFamily: FONT}
  };
  xAxes.push(Object.assign({}, common, {max: axisMaxX, name: showNames ? xName : '', nameGap: 23}));
  yAxes.push(Object.assign({}, common, {max: yMaxValues[i], name: showNames ? yName : '', nameGap: 27,
    axisLabel: Object.assign({}, common.axisLabel, {margin: 9})}));
  series.push({
    type: 'scatter', xAxisIndex: i, yAxisIndex: i, data: panelData[i],
    symbol: 'circle', symbolSize: 8, silent: true, z: 2,
    itemStyle: {color: 'rgba(255,255,255,0)', borderColor: 'rgba(112,112,112,0.85)', borderWidth: 1.1}
  });
  series.push({
    type: 'line', xAxisIndex: i, yAxisIndex: i, data: fitLines[i],
    showSymbol: false, symbol: 'none', silent: true, z: 3, clip: true,
    lineStyle: {color: '#bdbdbd', width: 1}
  });
  // plot box
  graphics.push({type: 'rect', z: 0, silent: true,
    shape: {x: l - 4, y: t - 4, width: w + 8, height: h + 8},
    style: {fill: 'none', stroke: '#d4d4d4', lineWidth: 1}});
  // panel title
  graphics.push({type: 'text', z: 5, silent: true, x: l + w / 2, y: i < 5 ? 80 : 318,
    style: {text: panelTitles[i], font: 'bold 15px ' + FONT, fill: '#111', align: 'center', verticalAlign: 'middle'}});
  // R² label
  graphics.push({type: 'text', z: 5, silent: true, x: r2Pos[i][0], y: r2Pos[i][1],
    style: {text: 'R² = ' + r2Values[i], font: 'italic bold 16px ' + FONT, fill: '#111', align: 'left', verticalAlign: 'middle'}});
});

// headings and frame
const BLUE = '#3434e8';
graphics.push({type: 'text', silent: true, x: 345, y: 22,
  style: {text: headings[0], font: HFONT, fill: BLUE, align: 'center', verticalAlign: 'middle'}});
graphics.push({type: 'text', silent: true, x: 781, y: 22,
  style: {text: headings[1], font: HFONT, fill: BLUE, align: 'center', verticalAlign: 'middle'}});
graphics.push({type: 'text', silent: true, x: 146, y: 283,
  style: {text: colLabel, font: HFONT, fill: BLUE, align: 'center', verticalAlign: 'middle'}});
graphics.push({type: 'text', silent: true, x: 22, y: 162, rotation: Math.PI / 2,
  style: {text: rowLabel, font: HFONT, fill: BLUE, align: 'center', verticalAlign: 'middle'}});
graphics.push({type: 'line', silent: true, shape: {x1: 621, y1: 5, x2: 621, y2: 545},
  style: {stroke: '#e3211c', lineWidth: 3, lineDash: [9, 4]}});
graphics.push({type: 'line', silent: true, shape: {x1: 8, y1: 0, x2: 8, y2: 622},
  style: {stroke: '#111', lineWidth: 2}});
graphics.push({type: 'rect', silent: true, shape: {x: 8, y: 621, width: 997, height: 2},
  style: {fill: '#c9d6f6'}});
graphics.push({type: 'rect', silent: true, shape: {x: 8, y: 623, width: 997, height: 4},
  style: {fill: '#4d72e0'}});

chart.setOption({
  animation: false,
  backgroundColor: '#ffffff',
  grid: grids, xAxis: xAxes, yAxis: yAxes, series: series,
  graphic: graphics
});
</script>
</body>
</html>
